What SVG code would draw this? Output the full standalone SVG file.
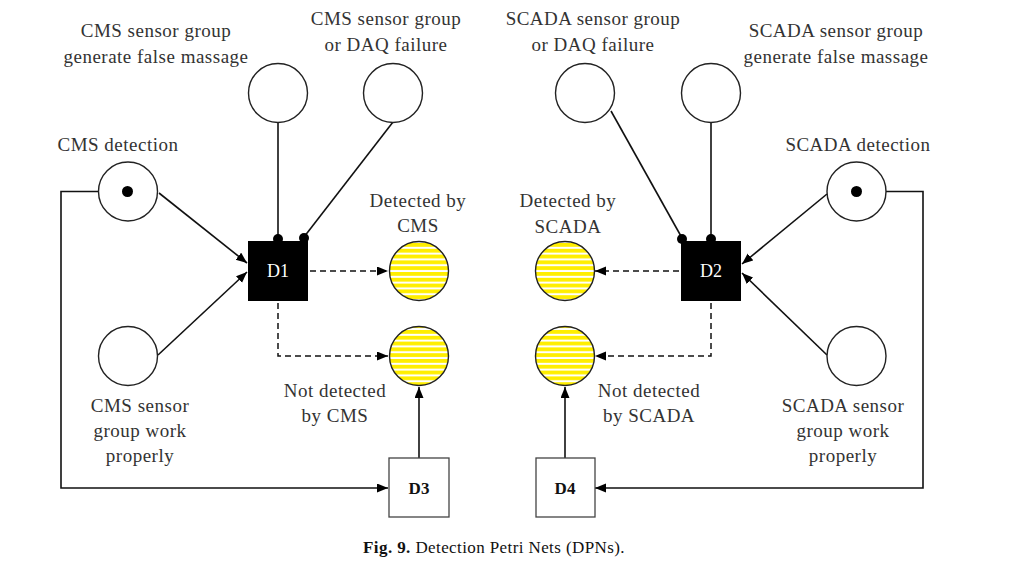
<svg xmlns="http://www.w3.org/2000/svg" width="1024" height="574" viewBox="0 0 1024 574">
<defs>
<pattern id="stripes" patternUnits="userSpaceOnUse" x="0" y="243" width="10" height="5.8">
<rect x="0" y="0" width="10" height="5.8" fill="#ffffff"/>
<rect x="0" y="0" width="10" height="3.8" fill="#ffee00"/>
</pattern>
<marker id="arr" markerUnits="userSpaceOnUse" markerWidth="12" markerHeight="10" refX="11" refY="4.5" orient="auto">
<path d="M0,0 L11,4.5 L0,9 Z" fill="#000"/>
</marker>
</defs>
<style>
.lbl{font-family:"Liberation Serif","Times New Roman",serif;font-size:19px;fill:#333;text-anchor:middle;letter-spacing:0.5px}
.place{fill:#fff;stroke:#222;stroke-width:1.4}
.yel{fill:url(#stripes);stroke:#222;stroke-width:1.4}
.tok{fill:#000}
.ln{fill:none;stroke:#111;stroke-width:1.6}
.dash{fill:none;stroke:#111;stroke-width:1.5;stroke-dasharray:6 4}
.blk{fill:#000}
.wht{fill:#fff;stroke:#444;stroke-width:1.3}
.tw{font-family:"Liberation Serif","Times New Roman",serif;font-size:18px;fill:#fff;text-anchor:middle}
.tb{font-family:"Liberation Serif","Times New Roman",serif;font-size:17px;font-weight:bold;fill:#111;text-anchor:middle}
.cap{font-family:"Liberation Serif","Times New Roman",serif;font-size:17px;fill:#111;text-anchor:middle;letter-spacing:0.4px}
</style>
<rect width="1024" height="574" fill="#fff"/>

<g id="connectors">
<line class="ln" x1="278" y1="122" x2="278" y2="238"/>
<line class="ln" x1="393" y1="122" x2="304" y2="237"/>
<line class="ln" x1="159" y1="193" x2="247" y2="263" marker-end="url(#arr)"/>
<line class="ln" x1="158" y1="355" x2="247" y2="272" marker-end="url(#arr)"/>
<line class="dash" x1="310" y1="271" x2="388" y2="271" marker-end="url(#arr)"/>
<polyline class="dash" points="278,303 278,356 388,356" marker-end="url(#arr)"/>
<line class="ln" x1="419" y1="458" x2="419" y2="387" marker-end="url(#arr)"/>
<polyline class="ln" points="99,191.5 61,191.5 61,488 388,488" marker-end="url(#arr)"/>
<line class="ln" x1="711" y1="122" x2="711" y2="238"/>
<line class="ln" x1="611" y1="111" x2="682" y2="238"/>
<line class="ln" x1="827" y1="194" x2="742" y2="264" marker-end="url(#arr)"/>
<line class="ln" x1="827" y1="355" x2="742" y2="273" marker-end="url(#arr)"/>
<line class="dash" x1="679" y1="271" x2="595" y2="271" marker-end="url(#arr)"/>
<polyline class="dash" points="711,303 711,356 595,356" marker-end="url(#arr)"/>
<line class="ln" x1="565" y1="458" x2="565" y2="387" marker-end="url(#arr)"/>
<polyline class="ln" points="886,191.5 923,191.5 923,488 595,488" marker-end="url(#arr)"/>
</g>

<g id="p-cms-false">
<circle class="place" cx="278" cy="93" r="29.5"/>
<text class="lbl" x="156" y="37">CMS sensor group</text>
<text class="lbl" x="156" y="63">generate false massage</text>
</g>
<g id="p-cms-daq">
<circle class="place" cx="393" cy="93" r="29.5"/>
<text class="lbl" x="386" y="25">CMS sensor group</text>
<text class="lbl" x="386" y="51">or DAQ failure</text>
</g>
<g id="p-cms-detection">
<circle class="place" cx="128" cy="191.5" r="29.5"/>
<circle class="tok" cx="127.5" cy="191.5" r="5.5"/>
<text class="lbl" x="118" y="151">CMS detection</text>
</g>
<g id="p-cms-work">
<circle class="place" cx="128" cy="356" r="29.5"/>
<text class="lbl" x="140" y="412">CMS sensor</text>
<text class="lbl" x="140" y="437">group work</text>
<text class="lbl" x="140" y="462">properly</text>
</g>
<g id="t-d1">
<circle class="blk" cx="278" cy="239" r="5"/>
<circle class="blk" cx="304" cy="238" r="5"/>
<rect class="blk" x="248" y="241" width="60" height="60"/>
<text class="tw" x="278" y="277">D1</text>
</g>
<g id="p-detected-cms">
<circle class="yel" cx="419" cy="271" r="29.5"/>
<text class="lbl" x="418" y="207">Detected by</text>
<text class="lbl" x="418" y="232">CMS</text>
</g>
<g id="p-notdetected-cms">
<circle class="yel" cx="419" cy="356" r="29.5"/>
<text class="lbl" x="335" y="397">Not detected</text>
<text class="lbl" x="335" y="422">by CMS</text>
</g>
<g id="t-d3">
<rect class="wht" x="389" y="458" width="60" height="59"/>
<text class="tb" x="419" y="494">D3</text>
</g>

<g id="p-scada-daq">
<circle class="place" cx="585" cy="93" r="29.5"/>
<text class="lbl" x="593" y="25">SCADA sensor group</text>
<text class="lbl" x="593" y="51">or DAQ failure</text>
</g>
<g id="p-scada-false">
<circle class="place" cx="711" cy="93" r="29.5"/>
<text class="lbl" x="836" y="37">SCADA sensor group</text>
<text class="lbl" x="836" y="63">generate false massage</text>
</g>
<g id="p-scada-detection">
<circle class="place" cx="856.5" cy="191.5" r="29.5"/>
<circle class="tok" cx="856.5" cy="191.5" r="5.5"/>
<text class="lbl" x="858" y="151">SCADA detection</text>
</g>
<g id="p-scada-work">
<circle class="place" cx="856.5" cy="356" r="29.5"/>
<text class="lbl" x="843" y="412">SCADA sensor</text>
<text class="lbl" x="843" y="437">group work</text>
<text class="lbl" x="843" y="462">properly</text>
</g>
<g id="t-d2">
<circle class="blk" cx="682" cy="239" r="5"/>
<circle class="blk" cx="711" cy="239" r="5"/>
<rect class="blk" x="681" y="241" width="60" height="60"/>
<text class="tw" x="711" y="277">D2</text>
</g>
<g id="p-detected-scada">
<circle class="yel" cx="565" cy="271" r="29.5"/>
<text class="lbl" x="568" y="207">Detected by</text>
<text class="lbl" x="568" y="233">SCADA</text>
</g>
<g id="p-notdetected-scada">
<circle class="yel" cx="565" cy="356" r="29.5"/>
<text class="lbl" x="649" y="397">Not detected</text>
<text class="lbl" x="649" y="422">by SCADA</text>
</g>
<g id="t-d4">
<rect class="wht" x="536" y="458" width="59" height="59"/>
<text class="tb" x="565" y="494">D4</text>
</g>

<text class="cap" x="494" y="553"><tspan font-weight="bold">Fig. 9.</tspan> Detection Petri Nets (DPNs).</text>
</svg>
